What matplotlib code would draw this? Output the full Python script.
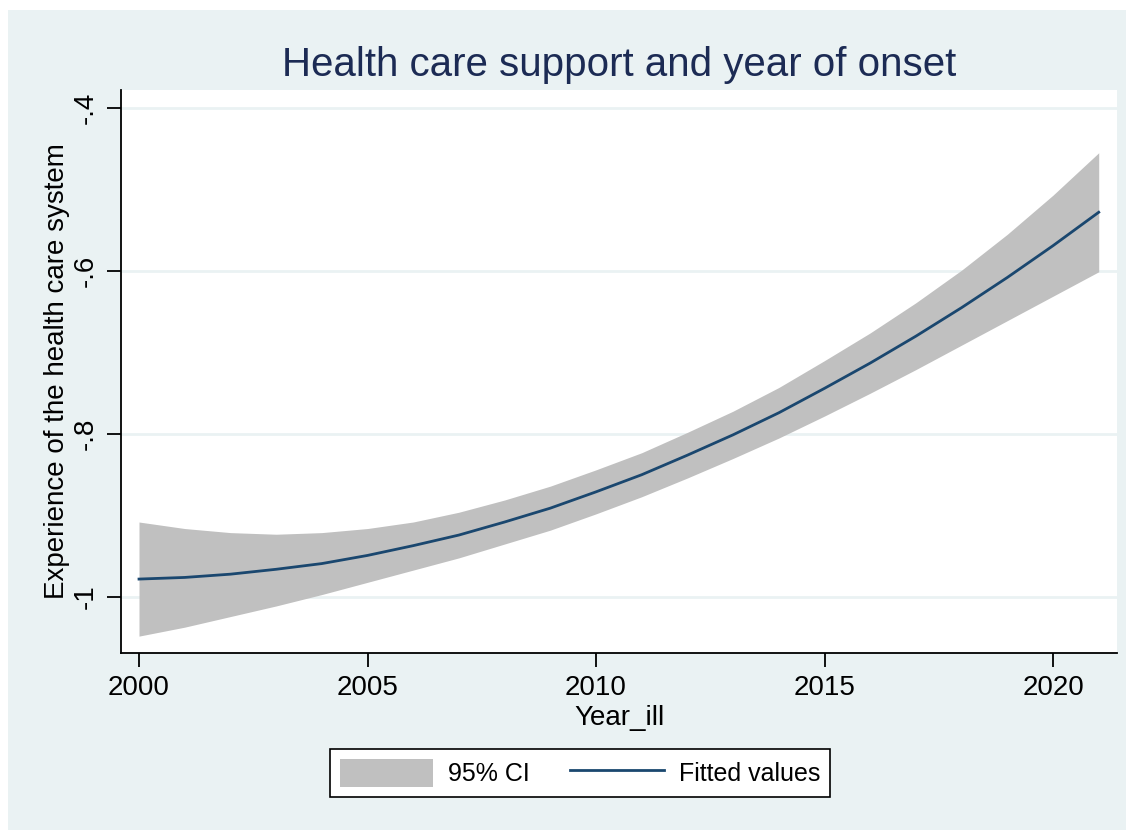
import matplotlib
matplotlib.use("Agg")
import matplotlib.pyplot as plt
from matplotlib.patches import Rectangle, Patch
from matplotlib.lines import Line2D

# quadratic fit of health care experience on year of onset, with 95% CI
years = [2000, 2001, 2002, 2003, 2004, 2005, 2006, 2007, 2008, 2009, 2010,
         2011, 2012, 2013, 2014, 2015, 2016, 2017, 2018, 2019, 2020, 2021]
fitted = [-0.978, -0.976, -0.972, -0.966, -0.959, -0.949, -0.937, -0.924,
          -0.908, -0.891, -0.871, -0.850, -0.826, -0.801, -0.774, -0.744,
          -0.713, -0.680, -0.645, -0.608, -0.569, -0.528]
ci_lower = [-1.048, -1.037, -1.024, -1.011, -0.997, -0.982, -0.967, -0.952,
            -0.935, -0.918, -0.898, -0.877, -0.854, -0.830, -0.805, -0.778,
            -0.750, -0.721, -0.691, -0.661, -0.631, -0.601]
ci_upper = [-0.908, -0.916, -0.921, -0.923, -0.921, -0.916, -0.908, -0.896,
            -0.881, -0.864, -0.844, -0.823, -0.798, -0.772, -0.743, -0.710,
            -0.676, -0.639, -0.599, -0.555, -0.507, -0.455]

x_ticks = [2000, 2005, 2010, 2015, 2020]
y_ticks = [-1.0, -0.8, -0.6, -0.4]
y_tick_labels = ["-1", "-.8", "-.6", "-.4"]

BG = "#EAF2F3"
NAVY = "#1A476F"
CI_GRAY = "#C0C0C0"
TITLE_COL = "#1C2B54"

plt.rcParams["font.family"] = ["Liberation Sans", "DejaVu Sans"]

fig = plt.figure(figsize=(11.26, 8.30), dpi=100, facecolor="white")
# outer graph region (thin white margin on the left and top)
fig.patches.append(Rectangle((8 / 1126, 0), 1, 1 - 10 / 830,
                             transform=fig.transFigure, facecolor=BG,
                             edgecolor="none", zorder=-10))

ax = fig.add_axes([121 / 1126, (830 - 653) / 830,
                   (1117 - 121) / 1126, (653 - 90) / 830])
ax.set_facecolor("white")

ax.fill_between(years, ci_lower, ci_upper, color=CI_GRAY, linewidth=0, zorder=2)
ax.plot(years, fitted, color=NAVY, linewidth=2.0, zorder=3)

ax.set_xlim(1999.606, 2021.40)
ax.set_ylim(-1.0687, -0.378)

ax.set_xticks(x_ticks)
ax.set_xticklabels([str(v) for v in x_ticks])
ax.set_yticks(y_ticks)
ax.set_yticklabels(y_tick_labels, rotation=90, va="center")

ax.grid(axis="y", color=BG, linewidth=2, zorder=1)
ax.grid(axis="x", visible=False)
ax.set_axisbelow(True)

for side in ("top", "right"):
    ax.spines[side].set_visible(False)
for side in ("left", "bottom"):
    ax.spines[side].set_linewidth(1.3)
    ax.spines[side].set_color("black")

ax.tick_params(axis="both", direction="out", length=10, width=1.3,
               labelsize=20, colors="black", pad=6)

ax.set_xlabel("Year_ill", fontsize=20, labelpad=3)
ax.set_ylabel("Experience of the health care system", fontsize=20, labelpad=2)
ax.set_title("Health care support and year of onset", fontsize=29,
             color=TITLE_COL, pad=10)

handles = [Patch(facecolor=CI_GRAY, edgecolor="none"),
           Line2D([0], [0], color=NAVY, linewidth=2.0)]
leg = fig.legend(handles, ["95% CI", "Fitted values"], ncol=2,
                 loc="center", bbox_to_anchor=(580 / 1126, 1 - 773 / 830),
                 fontsize=18, frameon=True, fancybox=False, handlelength=3.75,
                 handleheight=1.3, handletextpad=0.6, columnspacing=1.6,
                 borderpad=0.4, borderaxespad=0)
leg.get_frame().set_edgecolor("black")
leg.get_frame().set_facecolor("white")
leg.get_frame().set_alpha(1)
leg.get_frame().set_linewidth(1.2)

fig.savefig("out.png", dpi=100, facecolor=fig.get_facecolor())
